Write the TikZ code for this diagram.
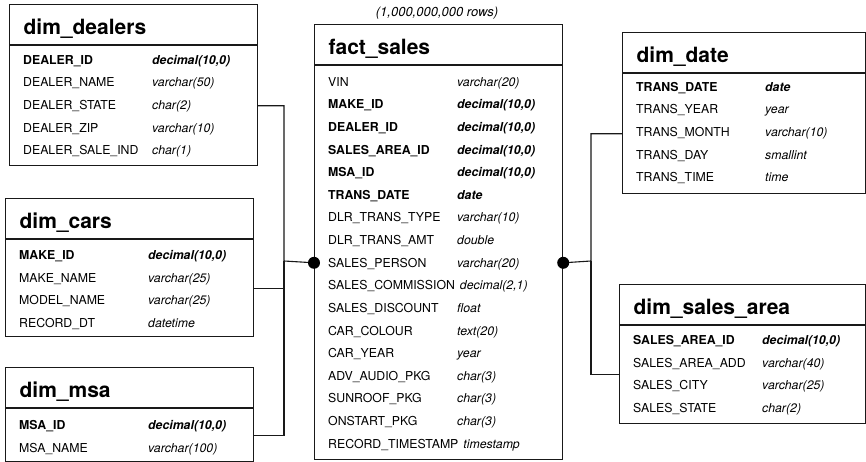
\documentclass[tikz,border=0pt]{standalone}
\usepackage{fontspec}
\setmainfont{TeX Gyre Heros}
\usetikzlibrary{positioning}
\newcommand{\attr}[2]{\makebox[129pt][l]{#1}\textit{#2}}

\begin{document}
\begin{tikzpicture}[x=1pt, y=-1pt,
head/.style={draw=black!90, line width=1.2pt, anchor=north west, minimum height=40pt, inner xsep=14pt, text height=19pt, text depth=0pt, align=left, font=\bfseries\fontsize{21}{21}\selectfont},
body/.style={draw=black!90, line width=1.2pt, anchor=north west, inner sep=0pt},
fld/.style={anchor=west, inner sep=0pt, text height=8.8pt, text depth=0pt, font=\fontsize{12.3}{14}\selectfont},
key/.style={fld, font=\bfseries\fontsize{12.3}{14}\selectfont},
link/.style={draw=black!90, line width=1.1pt}]
\useasboundingbox (0,0) rectangle (866,462);
% dimension tables on the left
\node[head, text width=220pt] (dealers-h) at (9,4) {dim\_dealers};
\node[body, minimum width=248pt, minimum height=120pt] (dealers) at (dealers-h.south west) {};
\node[key] (d1) at (23,60) {\attr{DEALER\_ID}{decimal(10,0)}};
\node[fld] (d2) at (23,82.6) {\attr{DEALER\_NAME}{varchar(50)}};
\node[fld] (d3) at (23,105.2) {\attr{DEALER\_STATE}{char(2)}};
\node[fld] (d4) at (23,127.8) {\attr{DEALER\_ZIP}{varchar(10)}};
\node[fld] (d5) at (23,150.4) {\attr{DEALER\_SALE\_IND}{char(1)}};

\node[head, text width=220pt] (cars-h) at (5,198) {dim\_cars};
\node[body, minimum width=248pt, minimum height=97pt] (cars) at (cars-h.south west) {};
\node[key] (c1) at (19,255) {\attr{MAKE\_ID}{decimal(10,0)}};
\node[fld] (c2) at (19,277.6) {\attr{MAKE\_NAME}{varchar(25)}};
\node[fld] (c3) at (19,300.2) {\attr{MODEL\_NAME}{varchar(25)}};
\node[fld] (c4) at (19,322.8) {\attr{RECORD\_DT}{datetime}};

\node[head, text width=220pt] (msa-h) at (5,367) {dim\_msa};
\node[body, minimum width=248pt, minimum height=53pt] (msa) at (msa-h.south west) {};
\node[key] (m1) at (19,425) {\attr{MSA\_ID}{decimal(10,0)}};
\node[fld] (m2) at (19,447.6) {\attr{MSA\_NAME}{varchar(100)}};

% fact table
\node[font=\itshape\fontsize{13}{15}\selectfont, inner sep=0pt] (rows) at (437,13) {(1,000,000,000 rows)};
\node[head, text width=220pt] (fact-h) at (314,24) {fact\_sales};
\node[body, minimum width=248pt, minimum height=394pt] (fact) at (fact-h.south west) {};
\node[fld] (f1) at (328,82) {\attr{VIN}{varchar(20)}};
\node[key] (f2) at (328,104.6) {\attr{MAKE\_ID}{decimal(10,0)}};
\node[key] (f3) at (328,127.2) {\attr{DEALER\_ID}{decimal(10,0)}};
\node[key] (f4) at (328,149.8) {\attr{SALES\_AREA\_ID}{decimal(10,0)}};
\node[key] (f5) at (328,172.4) {\attr{MSA\_ID}{decimal(10,0)}};
\node[key] (f6) at (328,195) {\attr{TRANS\_DATE}{date}};
\node[fld] (f7) at (328,217.6) {\attr{DLR\_TRANS\_TYPE}{varchar(10)}};
\node[fld] (f8) at (328,240.2) {\attr{DLR\_TRANS\_AMT}{double}};
\node[fld] (f9) at (328,262.8) {\attr{SALES\_PERSON}{varchar(20)}};
\node[fld] (f10) at (328,285.4) {SALES\_COMMISSION\hspace{5pt}\textit{decimal(2,1)}};
\node[fld] (f11) at (328,308) {\attr{SALES\_DISCOUNT}{float}};
\node[fld] (f12) at (328,330.6) {\attr{CAR\_COLOUR}{text(20)}};
\node[fld] (f13) at (328,353.2) {\attr{CAR\_YEAR}{year}};
\node[fld] (f14) at (328,375.8) {\attr{ADV\_AUDIO\_PKG}{char(3)}};
\node[fld] (f15) at (328,398.4) {\attr{SUNROOF\_PKG}{char(3)}};
\node[fld] (f16) at (328,421) {\attr{ONSTART\_PKG}{char(3)}};
\node[fld] (f17) at (328,443.6) {RECORD\_TIMESTAMP\hspace{5pt}\textit{timestamp}};

% dimension tables on the right
\node[head, text width=215pt] (date-h) at (622,32) {dim\_date};
\node[body, minimum width=243pt, minimum height=120pt] (date) at (date-h.south west) {};
\node[key] (t1) at (636,87) {\attr{TRANS\_DATE}{date}};
\node[fld] (t2) at (636,109.6) {\attr{TRANS\_YEAR}{year}};
\node[fld] (t3) at (636,132.2) {\attr{TRANS\_MONTH}{varchar(10)}};
\node[fld] (t4) at (636,154.8) {\attr{TRANS\_DAY}{smallint}};
\node[fld] (t5) at (636,177.4) {\attr{TRANS\_TIME}{time}};

\node[head, text width=218pt] (sales-h) at (619,284) {dim\_sales\_area};
\node[body, minimum width=246pt, minimum height=98pt] (sales) at (sales-h.south west) {};
\node[key] (s1) at (633,340) {\attr{SALES\_AREA\_ID}{decimal(10,0)}};
\node[fld] (s2) at (633,362.6) {\attr{SALES\_AREA\_ADD}{varchar(40)}};
\node[fld] (s3) at (633,385.2) {\attr{SALES\_CITY}{varchar(25)}};
\node[fld] (s4) at (633,407.8) {\attr{SALES\_STATE}{char(2)}};

% links
\coordinate (jl) at (284,261);
\coordinate (jr) at (591,261);
\draw[link] (dealers.east) -| (jl) -- (fact.west);
\draw[link] (cars.east) -| (jl);
\draw[link] (msa.east) -| (jl);
\draw[link] (fact.east) -- (jr) |- (date.west);
\draw[link] (jr) |- (sales.west);
\fill (fact.west) circle (6pt);
\fill (fact.east) circle (6pt);
\end{tikzpicture}
\end{document}
